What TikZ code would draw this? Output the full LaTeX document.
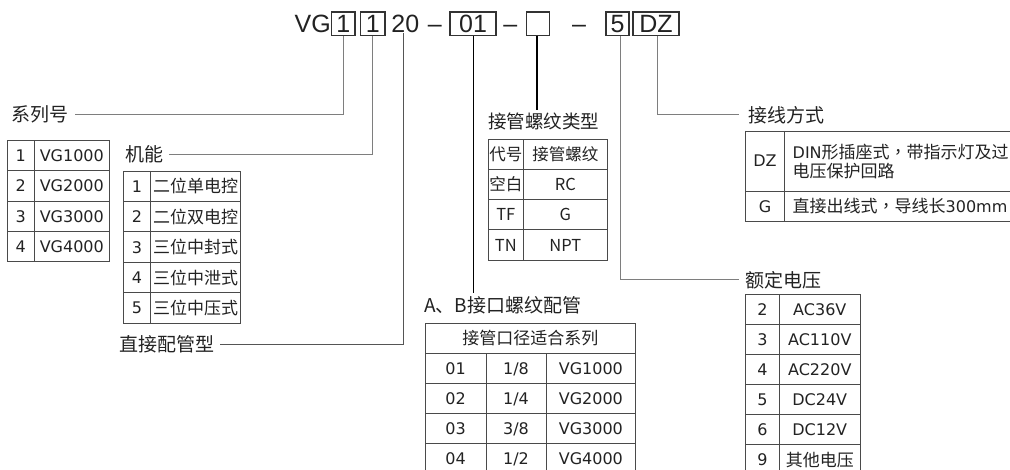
\documentclass[tikz,border=0pt]{standalone}
\usepackage{fontspec}
\setmainfont{Noto Sans CJK SC}
\newfontfamily\fcjk{Noto Sans CJK SC}
\newfontfamily\fcjktc{Noto Sans CJK TC}
\newfontfamily\fdv{DejaVu Sans}
\newfontfamily\flib{Liberation Sans}
\definecolor{txt}{HTML}{222222}
\definecolor{tline}{HTML}{4A4A4A}
\definecolor{leadg}{HTML}{7E7E7E}
\definecolor{leadd}{HTML}{555555}
\definecolor{boxc}{HTML}{333333}
\newcommand{\tccomma}{{\fcjktc ，}}
\tikzset{
  code/.style={font=\flib\fontsize{25}{25}\selectfont, inner sep=0pt, text=txt, text height=18pt, text depth=0pt},
  cbox/.style={code, draw=boxc, line width=1.1pt, minimum height=23.7pt},
  lbl/.style={font=\fcjk\fontsize{19}{19}\selectfont, inner xsep=6pt, inner ysep=3pt, text=txt, text height=15.8pt, text depth=1.3pt},
  lcell/.style={font=\fdv\fontsize{16}{16}\selectfont, inner sep=0pt, text=txt, text height=11.7pt, text depth=0pt},
  ccell/.style={font=\fcjk\fontsize{17}{17}\selectfont, inner sep=0pt, text=txt, text height=14pt, text depth=1pt},
  scell/.style={font=\fcjk\fontsize{16.5}{16.5}\selectfont, inner sep=0pt, text=txt, text height=13.5pt, text depth=1pt},
  tgrid/.style={draw=tline, line width=0.9pt},
  leadline/.style={draw=leadg, line width=1pt},
  leaddark/.style={draw=leadd, line width=1pt},
  leadblack/.style={draw=black, line width=1pt},
  leadthick/.style={draw=black, line width=2pt}
}
\begin{document}
\begin{tikzpicture}[x=1pt,y=-1pt]
\useasboundingbox (0,0) rectangle (1010,470);
\clip (0,0) rectangle (1010,470);

% ---------- code line ----------
\node[code, anchor=east] (vg) at (331,24) {VG};
\node[cbox, minimum width=23.3pt] (b1) at (343.35,23.85) {1};
\node[cbox, minimum width=24.3pt] (b2) at (372.85,23.85) {1};
\node[code] (t20) at (405.3,24) {20};
\node[code] (d1) at (434.8,24) {–};
\node[cbox, minimum width=46pt] (b01) at (473,23.85) {01};
\node[code] (d2) at (510.3,24) {–};
\node[cbox, minimum width=22.6pt] (bE) at (537.8,23.85) {};
\node[code] (d3) at (579,24) {–};
\node[cbox, minimum width=23pt] (b5) at (617.5,23.85) {5};
\node[cbox, minimum width=46pt] (bDZ) at (656,23.85) {DZ};

% ---------- labels ----------
\node[lbl] (xl) at (39.9,114.3) {系列号};
\node[lbl] (jn) at (144,154.3) {机能};
\node[lbl] (zj) at (166.7,344.3) {直接配管型};
\node[lbl, font=\fcjk\fontsize{18.5}{18.5}\selectfont] (jg) at (543.8,121.7) {接管螺纹类型};
\node[lbl] (ab) at (502.7,305) {A、B接口螺纹配管};
\node[lbl, anchor=west, inner xsep=9pt] (jx) at (739,115) {接线方式};
\node[lbl, anchor=west, inner xsep=7pt] (ed) at (738.5,280) {额定电压};

% ---------- leader lines ----------
\draw[leadline] (b1.south) |- (xl.east);
\draw[leadline] (b2.south) |- (jn.east);
\draw[leaddark] ([xshift=-2pt]t20.south) |- (zj.east);
\draw[leadblack] (b01.south) -- (b01.south |- ab.north);
\draw[leadthick] ([xshift=-1.1pt]bE.south) -- ([xshift=-1.1pt]bE.south |- jg.north);
\draw[leadline] ([xshift=2.5pt]b5.south) |- (ed.west);
\draw[leadline] ([xshift=1.7pt]bDZ.south) |- (jx.west);

% ---------- table 1: series ----------
\draw[tgrid] (7.3,140.7) rectangle (109.3,261.7);
\draw[tgrid] (34.3,140.7) -- (34.3,261.7);
\foreach \i in {1,2,3} \draw[tgrid] (7.3,140.7+30.25*\i) -- (109.3,140.7+30.25*\i);
\foreach \i in {1,...,4} {
  \node[lcell] (ta\i) at (20.8,140.7+30.25*\i-15.1) {\i};
  \node[lcell] (tb\i) at (71.8,140.7+30.25*\i-15.1) {VG\i000};
}

% ---------- table 2: function ----------
\draw[tgrid] (123.3,171) rectangle (240.7,323.3);
\draw[tgrid] (150.7,171) -- (150.7,323.3);
\foreach \i in {1,...,4} \draw[tgrid] (123.3,171+30.46*\i) -- (240.7,171+30.46*\i);
\foreach \i/\t in {1/二位单电控,2/二位双电控,3/三位中封式,4/三位中泄式,5/三位中压式} {
  \node[lcell] (fa\i) at (137,171+30.46*\i-15.2) {\i};
  \node[ccell] (fb\i) at (195.7,171+30.46*\i-15.2) {\t};
}

% ---------- table 3: thread type ----------
\draw[tgrid] (488.3,139.3) rectangle (607.3,260);
\draw[tgrid] (523.3,139.3) -- (523.3,260);
\foreach \i in {1,2,3} \draw[tgrid] (488.3,139.3+30.17*\i) -- (607.3,139.3+30.17*\i);
\foreach \i/\a/\b in {1/代号/接管螺纹,2/空白/RC,3/TF/G,4/TN/NPT} {
  \node[scell] (ga\i) at (505.8,139.3+30.17*\i-15.1) {\a};
  \node[scell] (gb\i) at (565.3,139.3+30.17*\i-15.1) {\b};
}

% ---------- table 4: port thread ----------
\draw[tgrid] (425,323.3) -- (635.7,323.3);
\draw[tgrid] (425,323.3) -- (425,480);
\draw[tgrid] (635.7,323.3) -- (635.7,480);
\draw[tgrid] (486,353.3) -- (486,480);
\draw[tgrid] (546,353.3) -- (546,480);
\foreach \i in {0,1,2,3} \draw[tgrid] (425,353.3+30*\i) -- (635.7,353.3+30*\i);
\node[ccell] (ph) at (530.4,338.3) {接管口径适合系列};
\foreach \i/\a/\b/\c in {1/01/1\slash 8/VG1000,2/02/1\slash 4/VG2000,3/03/3\slash 8/VG3000,4/04/1\slash 2/VG4000} {
  \node[lcell] (pa\i) at (455.5,353.3+30*\i-15) {\a};
  \node[lcell] (pb\i) at (516,353.3+30*\i-15) {\b};
  \node[lcell] (pc\i) at (590.9,353.3+30*\i-15) {\c};
}

% ---------- table 5: wiring ----------
\draw[tgrid] (745.7,131) -- (1015,131);
\draw[tgrid] (745.7,191) -- (1015,191);
\draw[tgrid] (745.7,221.7) -- (1015,221.7);
\draw[tgrid] (745.7,131) -- (745.7,221.7);
\draw[tgrid] (784.3,131) -- (784.3,221.7);
\node[lcell] (wa1) at (765,161) {DZ};
\node[ccell, anchor=west, align=left, text height=, text depth=] (wb1) at (792.5,161.7)
  {{\fdv\fontsize{16}{16}\selectfont DIN}形插座式\tccomma 带指示灯及过\\[2pt]电压保护回路};
\node[lcell] (wa2) at (765,206.3) {G};
\node[ccell, anchor=west] (wb2) at (792.5,206.3) {直接出线式\tccomma 导线长{\fdv\fontsize{16}{16}\selectfont 300mm}};

% ---------- table 6: voltage ----------
\draw[tgrid] (745.7,294.3) -- (860.3,294.3);
\draw[tgrid] (745.7,294.3) -- (745.7,480);
\draw[tgrid] (779.3,294.3) -- (779.3,480);
\draw[tgrid] (860.3,294.3) -- (860.3,480);
\foreach \i in {1,...,5} \draw[tgrid] (745.7,294.3+30.1*\i) -- (860.3,294.3+30.1*\i);
\foreach \i/\a/\b in {1/2/AC36V,2/3/AC110V,3/4/AC220V,4/5/DC24V,5/6/DC12V} {
  \node[lcell] (va\i) at (762.5,294.3+30.1*\i-15) {\a};
  \node[lcell] (vb\i) at (819.8,294.3+30.1*\i-15) {\b};
}
\node[lcell] (va6) at (762.5,459.9) {9};
\node[ccell] (vb6) at (819.8,459.9) {其他电压};
\end{tikzpicture}
\end{document}
